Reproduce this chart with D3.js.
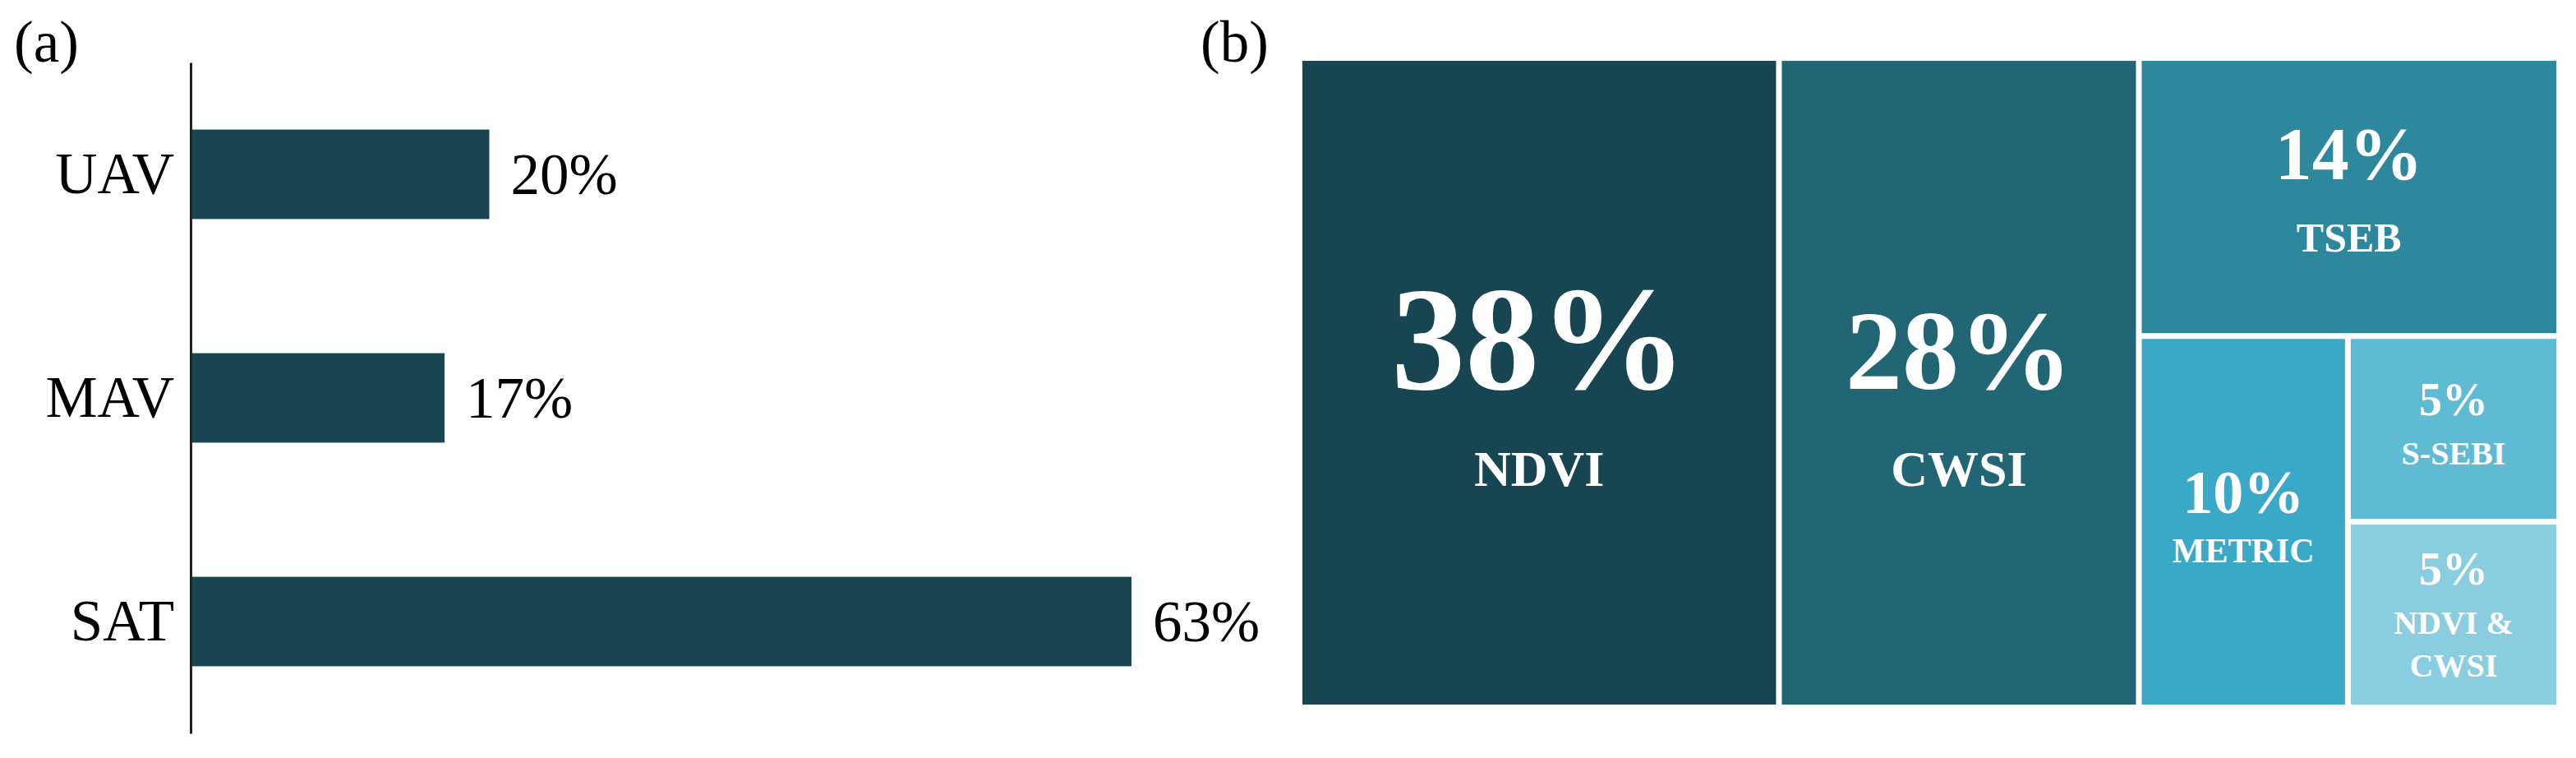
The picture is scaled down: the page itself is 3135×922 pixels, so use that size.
<!DOCTYPE html>
<html>
<head>
<meta charset="utf-8">
<script src="https://cdn.jsdelivr.net/npm/d3@7"></script>
<style>
  body { margin: 0; background: #fff; }
  text { font-family: "Liberation Serif", "Times New Roman", serif; }
</style>
</head>
<body>
<script>
// (a) share of studies per platform
const platforms = ["UAV", "MAV", "SAT"];
const platformShare = [20, 17, 63];

// (b) share of studies per method (areas, labels as printed)
const methods = ["NDVI", "CWSI", "TSEB", "METRIC", "S-SEBI", "NDVI & CWSI"];
const methodArea = [38.1, 28.6, 14.3, 9.5, 4.8, 4.8];
const methodLabels = ["38%", "28%", "14%", "10%", "5%", "5%"];

const width = 3135;
const height = 922;

const barColor = "#194552";
const methodColors = ["#184552", "#226676", "#2d889e", "#3aa9c7", "#5fbbd3", "#8bcde0"];

// font sizes and vertical offsets (from cell centre) of the treemap labels
const labelStyle = {
  "NDVI":        { pct: 180, name: 62, pctDy: 7,   nameDy: 125 },
  "CWSI":        { pct: 138, name: 62, pctDy: 7,   nameDy: 125 },
  "TSEB":        { pct: 90,  name: 50, pctDy: -22, nameDy: 66 },
  "METRIC":      { pct: 74,  name: 42, pctDy: -11, nameDy: 49 },
  "S-SEBI":      { pct: 56,  name: 40, pctDy: -17, nameDy: 43 },
  "NDVI & CWSI": { pct: 56,  name: 40, pctDy: -37, nameDy: 23, lineGap: 52 }
};

const svg = d3.select("body").append("svg")
    .attr("width", width)
    .attr("height", height)
    .style("background", "#fff");

// ---------- (a) horizontal bars ----------
const y = d3.scaleBand()
    .domain(platforms)
    .range([76, 892])
    .paddingInner(0.6)
    .paddingOuter(0.3);

const x = d3.scaleLinear()
    .domain([0, 63])
    .range([232, 1377]);

const bars = platforms.map((p, i) => ({ name: p, value: platformShare[i] }));

svg.append("text")
    .attr("x", 17)
    .attr("y", 75)
    .attr("font-size", 71)
    .text("(a)");

svg.append("g")
    .selectAll("rect")
    .data(bars)
    .join("rect")
    .attr("x", x(0))
    .attr("y", d => y(d.name))
    .attr("width", d => x(d.value) - x(0))
    .attr("height", y.bandwidth())
    .attr("fill", barColor);

svg.append("g")
    .selectAll("text")
    .data(bars)
    .join("text")
    .attr("x", d => x(d.value) + 26)
    .attr("y", d => y(d.name) + y.bandwidth() / 2)
    .attr("dy", "0.34em")
    .attr("font-size", 71)
    .attr("fill", "#000")
    .text(d => d.value + "%");

const yAxis = svg.append("g")
    .attr("transform", `translate(${x(0)},0)`)
    .call(d3.axisLeft(y).tickSize(0).tickPadding(20));

yAxis.select(".domain")
    .attr("stroke", "#222")
    .attr("stroke-width", 3);

yAxis.selectAll(".tick text")
    .attr("font-size", 71)
    .attr("fill", "#000");

// ---------- (b) treemap ----------
const tmX = 1585, tmY = 74, tmW = 1526, tmH = 783;

svg.append("text")
    .attr("x", 1461)
    .attr("y", 75)
    .attr("font-size", 71)
    .text("(b)");

const root = d3.hierarchy({
        children: methods.map((m, i) => ({ name: m, value: methodArea[i], label: methodLabels[i], color: methodColors[i] }))
    })
    .sum(d => d.value || 0)
    .sort((a, b) => b.value - a.value);

d3.treemap()
    .tile(d3.treemapSquarify.ratio(1))
    .size([tmW, tmH])
    .paddingInner(7)(root);

const cell = svg.append("g")
    .attr("transform", `translate(${tmX},${tmY})`)
    .selectAll("g")
    .data(root.leaves())
    .join("g");

cell.append("rect")
    .attr("x", d => d.x0)
    .attr("y", d => d.y0)
    .attr("width", d => d.x1 - d.x0)
    .attr("height", d => d.y1 - d.y0)
    .attr("fill", d => d.data.color);

cell.each(function(d) {
    const s = labelStyle[d.data.name];
    const cx = (d.x0 + d.x1) / 2;
    const cy = (d.y0 + d.y1) / 2;
    const g = d3.select(this);

    g.append("text")
        .attr("x", cx)
        .attr("y", cy + s.pctDy)
        .attr("text-anchor", "middle")
        .attr("font-weight", "bold")
        .attr("font-size", s.pct)
        .attr("fill", "#fff")
        .text(d.data.label);

    // long names break after the ampersand
    const lines = d.data.name.split(/(?<=&) /);
    lines.forEach((line, i) => {
        g.append("text")
            .attr("x", cx)
            .attr("y", cy + s.nameDy + i * (s.lineGap || 0))
            .attr("text-anchor", "middle")
            .attr("font-weight", "bold")
            .attr("font-size", s.name)
            .attr("fill", "#fff")
            .text(line);
    });
});
</script>
</body>
</html>
